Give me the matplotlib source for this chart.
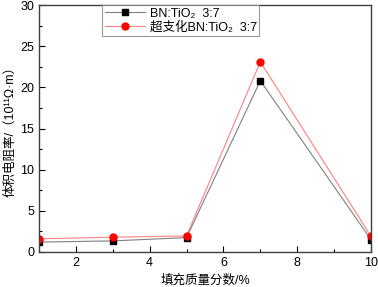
import matplotlib
matplotlib.use("Agg")
import matplotlib.pyplot as plt
from matplotlib.ticker import MultipleLocator

plt.rcParams['font.family'] = ['Liberation Sans', 'Noto Sans CJK SC', 'DejaVu Sans']

x = [1, 3, 5, 7, 10]
bn_tio2 = [1.2, 1.35, 1.75, 20.8, 1.5]
hb_bn_tio2 = [1.6, 1.8, 1.95, 23.1, 1.9]
labels = ['BN:TiO₂  3:7', '超支化BN:TiO₂  3:7']

fig = plt.figure(figsize=(3.78, 2.87), dpi=100)
ax = fig.add_axes([39/378, 1-252/287, 332/378, 247/287])

ax.plot(x, bn_tio2, color='#808080', lw=0.8, marker='s', ms=4.5,
        mfc='black', mec='black', label=labels[0])
ax.plot(x, hb_bn_tio2, color='#ff8080', lw=0.8, marker='o', ms=5,
        mfc='red', mec='red', label=labels[1])

ax.set_xlim(1, 10)
ax.set_ylim(0, 30)
ax.xaxis.set_major_locator(MultipleLocator(2))
ax.xaxis.set_minor_locator(MultipleLocator(1))
ax.yaxis.set_major_locator(MultipleLocator(5))
ax.yaxis.set_minor_locator(MultipleLocator(2.5))
ax.tick_params(which='both', direction='in', labelsize=9, top=False, right=False)
ax.tick_params(which='major', length=4, width=0.8)
ax.tick_params(which='minor', length=2.5, width=0.8)
for s in ax.spines.values():
    s.set_color('#404040')
    s.set_linewidth(1.0)

ax.set_xlabel('填充质量分数/%', fontsize=9, labelpad=4)
ax.set_ylabel('体积电阻率/（10¹¹Ω·m）', fontsize=9, labelpad=3)

leg = ax.legend(loc='upper left', bbox_to_anchor=(0.19, 1.0), fontsize=9,
                frameon=True, fancybox=False, borderpad=0.2, labelspacing=0.1,
                handlelength=3.2, handletextpad=0.4, borderaxespad=0)
leg.get_frame().set_edgecolor('#808080')
leg.get_frame().set_linewidth(0.8)

fig.savefig('out.png', dpi=100)
